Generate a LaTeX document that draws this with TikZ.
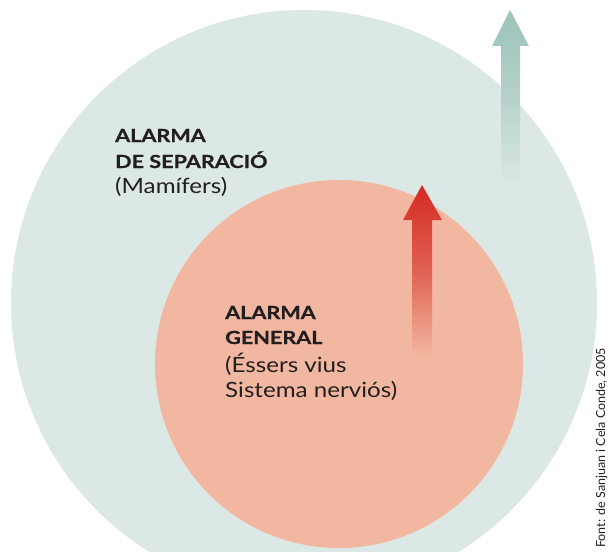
\documentclass[tikz,border=0pt]{standalone}
\usepackage{fontspec}
\setmainfont{Lato}
\newfontfamily\lblboldfont[FakeStretch=1.2,FakeBold=0.8]{Lato Bold}
\newfontfamily\lblregfont[FakeStretch=1.15]{Lato}
\definecolor{outerc}{HTML}{DCE8E5}
\definecolor{innerc}{HTML}{F2B7A0}
\definecolor{redc}{HTML}{D42A20}
\definecolor{greenc}{HTML}{9BC2B9}
\definecolor{txtc}{HTML}{231F20}
\tikzset{
  lbl/.style={anchor=base west, inner sep=0pt, text=txtc, font=\lblregfont\fontsize{21}{24}\selectfont},
  lblb/.style={anchor=base west, inner sep=0pt, text=txtc, font=\lblboldfont\fontsize{18}{20}\selectfont},
  disc/.style={circle, inner sep=0pt, draw=none},
}
\begin{document}
\begin{tikzpicture}[x=1pt,y=-1pt]
\useasboundingbox (0,0) rectangle (609,551);
\clip (0,0) rectangle (609,551);
\node[disc, fill=outerc, minimum size=586pt] (outer) at (304,303) {};
\node[disc, fill=innerc, minimum size=368pt] (inner) at (339,364) {};
% green arrow
\shade[top color=greenc, bottom color=outerc, middle color=greenc!60!outerc]
  (510,10) -- (529,46) -- (520,46) -- (520,185) -- (501,185) -- (501,46) -- (492,46) -- cycle;
% red arrow
\shade[top color=redc, bottom color=innerc, middle color=redc!60!innerc]
  (422,185) -- (442,220) -- (432,220) -- (432,357) -- (412,357) -- (412,220) -- (403,220) -- cycle;
\node[lblb] (sepA) at (115,142) {ALARMA};
\node[lblb] (sepB) at (115,168) {DE SEPARACIÓ};
\node[lbl] (sepC) at (115,193) {(Mamífers)};
\node[lblb] (genA) at (225,319) {ALARMA};
\node[lblb] (genB) at (225,344) {GENERAL};
\node[lbl] (genC) at (225,372) {(Éssers vius};
\node[lbl] (genD) at (225,397) {Sistema nerviós)};
\node[anchor=base west, rotate=90, inner sep=0pt, text=txtc, font=\fontsize{12.5}{14}\selectfont] (src) at (605,548) {Font: de Sanjuan i Cela Conde, 2005};
\end{tikzpicture}
\end{document}
